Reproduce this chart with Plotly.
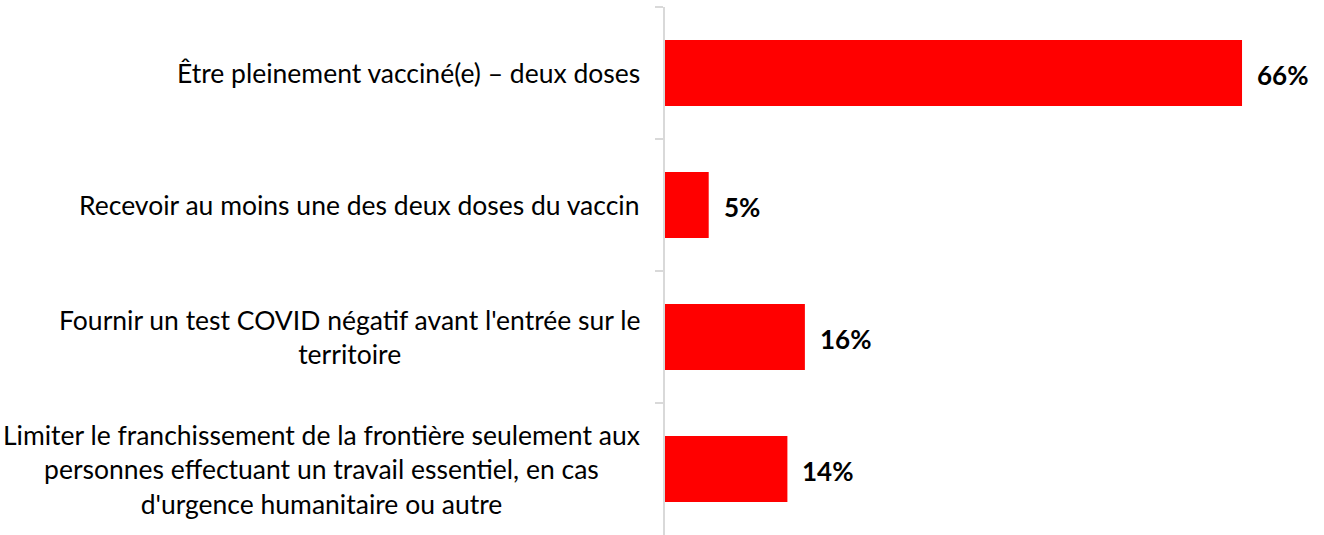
import plotly.graph_objects as go

categories = [
    "Être pleinement vacciné(e) – deux doses",
    "Recevoir au moins une des deux doses du vaccin",
    "Fournir un test COVID négatif avant l'entrée sur le<br>territoire",
    "Limiter le franchissement de la frontière seulement aux<br>personnes effectuant un travail essentiel, en cas<br>d'urgence humanitaire ou autre",
]
values = [66, 5, 16, 14]
value_labels = ["66%", "5%", "16%", "14%"]

FONT = "Lato"
fig = go.Figure()
fig.add_trace(go.Bar(
    y=categories, x=values, orientation="h",
    marker=dict(color="#FF0000", line=dict(width=0)),
    width=0.5, hoverinfo="skip",
))

annotations = []
for c in categories:
    annotations.append(dict(
        xref="paper", yref="y", x=0, y=c, text=c, showarrow=False,
        xanchor="right", yanchor="middle", align="center", xshift=-23,
        font=dict(family=FONT, size=26.5, color="#000000"),
    ))
for c, v, t in zip(categories, values, value_labels):
    annotations.append(dict(
        xref="x", yref="y", x=v, y=c, text="<b>" + t + "</b>", showarrow=False,
        xanchor="left", yanchor="middle", xshift=13, yshift=-2,
        font=dict(family=FONT, size=26, color="#000000"),
    ))

fig.update_layout(
    width=1324, height=535,
    margin=dict(l=665, r=47, t=7, b=0),
    paper_bgcolor="white", plot_bgcolor="white",
    showlegend=False,
    bargap=0.5,
    annotations=annotations,
    xaxis=dict(range=[0, 70], showgrid=False, zeroline=False, showticklabels=False,
               showline=False, ticks=""),
    yaxis=dict(autorange="reversed", showticklabels=False, showgrid=False,
               showline=True, linecolor="#D9D9D9", linewidth=2,
               ticks="outside", tickson="boundaries", ticklen=8,
               tickcolor="#D9D9D9", tickwidth=2, zeroline=False),
)

fig.write_html("out.html")
